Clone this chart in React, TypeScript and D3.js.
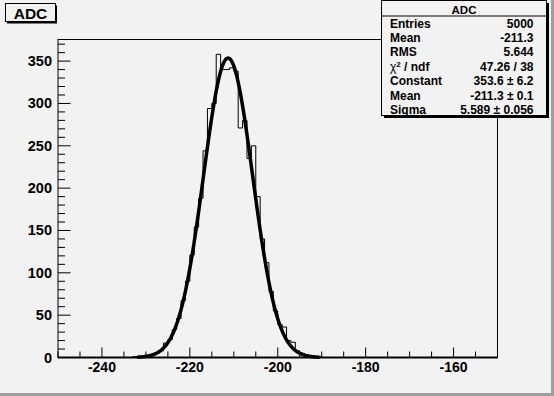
import React from "react";
import * as d3 from "d3";

// histogram: 1-unit bins, first bin starts at -233
const firstBin = -233;
const counts = [
  1, 0, 1, 2, 3, 5, 8, 17, 21, 33, 46, 67, 90, 121, 154, 188, 244, 294, 300,
  358, 340, 340, 342, 338, 271, 280, 235, 250, 190, 140, 112, 78, 55, 39, 36,
  20, 18, 8, 5, 3, 1, 1, 1,
];

// gaussian fit parameters (from the stats box)
const fitConstant = 353.6;
const fitMean = -211.3;
const fitSigma = 5.589;
const fitRange = [-232, -190.5];

const xTicks = [-240, -220, -200, -180, -160];
const yTicks = [0, 50, 100, 150, 200, 250, 300, 350];

const statLabels = ["Entries", "Mean", "RMS", "chi", "Constant", "Mean", "Sigma"];
const statValues = ["5000", "-211.3", "5.644", "47.26 / 38", "353.6 \u00b1 6.2", "-211.3 \u00b1 0.1", "5.589 \u00b1 0.056"];

const W = 554;
const H = 396;
const font = "'Liberation Sans', Arial, Helvetica, sans-serif";

export default function App() {
  const fx0 = 58;
  const fx1 = 497.5;
  const fy0 = 39.5;
  const fy1 = 357.5;

  const x = d3.scaleLinear().domain([-250, -150]).range([fx0, fx1]);
  const y = d3.scaleLinear().domain([0, 375.5]).range([fy1, fy0]);

  // step outline across the whole axis range
  const pts: [number, number][] = [[-250, 0], [firstBin, 0]];
  counts.forEach((c, i) => {
    pts.push([firstBin + i, c]);
    pts.push([firstBin + i + 1, c]);
  });
  pts.push([firstBin + counts.length, 0]);
  pts.push([-150, 0]);
  const histPath = d3
    .line<[number, number]>()
    .x((d) => x(d[0]))
    .y((d) => y(d[1]))(pts);

  const gauss = (v: number) =>
    fitConstant * Math.exp(-0.5 * ((v - fitMean) / fitSigma) ** 2);
  const fitPts = d3.range(fitRange[0], fitRange[1] + 0.01, 0.1);
  const fitPath = d3
    .line<number>()
    .x((v) => x(v))
    .y((v) => y(gauss(v)))
    .curve(d3.curveMonotoneX)(fitPts);

  const xMinor = d3.range(-250, -150, 5);
  const yMinor = d3.range(0, 375, 10);

  return (
    <svg
      width={W}
      height={H}
      style={{ position: "absolute", left: 0, top: 0 }}
      fontFamily={font}
      fontWeight="bold"
    >
      {/* canvas with bevel */}
      <rect x={0} y={0} width={W} height={H} fill="#f2f2f2" />
      <rect x={W - 3} y={0} width={3} height={H} fill="#9e9e9e" />
      <rect x={0} y={H - 3} width={W} height={3} fill="#9e9e9e" />

      {/* frame */}
      <rect
        x={fx0}
        y={fy0}
        width={fx1 - fx0}
        height={fy1 - fy0}
        fill="#f2f2f2"
        stroke="#000"
        strokeWidth={1}
      />

      {/* x ticks */}
      {xMinor.map((v) => {
        const major = xTicks.includes(v);
        return (
          <line
            key={"xt" + v}
            x1={x(v)}
            x2={x(v)}
            y1={fy1}
            y2={fy1 - (major ? 10 : 6)}
            stroke="#000"
          />
        );
      })}
      {xTicks.map((v) => (
        <text key={"xl" + v} x={x(v)} y={372} textAnchor="middle" fontSize={14}>
          {v}
        </text>
      ))}

      {/* y ticks */}
      {yMinor.map((v) => {
        const major = v % 50 === 0;
        return (
          <line
            key={"yt" + v}
            x1={fx0}
            x2={fx0 + (major ? 12.5 : 7)}
            y1={y(v)}
            y2={y(v)}
            stroke="#000"
          />
        );
      })}
      {yTicks.map((v) => (
        <text key={"yl" + v} x={52} y={y(v) + 5} textAnchor="end" fontSize={14.5}>
          {v}
        </text>
      ))}

      {/* histogram */}
      <path d={histPath ?? ""} fill="none" stroke="#000" strokeWidth={1} />
      {/* fit */}
      <path d={fitPath ?? ""} fill="none" stroke="#000" strokeWidth={3.5} strokeLinejoin="round" />
      <line x1={fx0} x2={fx1} y1={fy1} y2={fy1} stroke="#000" strokeWidth={2} />

      {/* title box */}
      <rect x={7} y={5.5} width={50} height={18} fill="#000" />
      <rect x={5.5} y={3.5} width={50} height={18} fill="#f2f2f2" stroke="#000" />
      <text x={30.5} y={18.5} textAnchor="middle" fontSize={15.5}>
        ADC
      </text>

      {/* stats box */}
      <rect x={384} y={3} width={165} height={115} fill="#000" />
      <rect x={381.5} y={0.5} width={165} height={115} fill="#f2f2f2" stroke="#000" />
      <line x1={381.5} x2={546.5} y1={16} y2={16} stroke="#000" />
      <text x={464} y={13.5} textAnchor="middle" fontSize={11.5}>
        ADC
      </text>
      {statLabels.map((l, i) => (
        <text key={"sl" + i} x={390} y={27.5 + i * 14.45} fontSize={12}>
          {l === "chi" ? (
            <>
              <tspan fontWeight="normal">{"\u03c7"}</tspan>
              <tspan dy={-4} fontSize={8}>2</tspan>
              <tspan dy={4}>{" / ndf"}</tspan>
            </>
          ) : (
            l
          )}
        </text>
      ))}
      {statValues.map((v, i) => (
        <text key={"sv" + i} x={533.5} y={27.5 + i * 14.45} textAnchor="end" fontSize={12}>
          {v}
        </text>
      ))}
    </svg>
  );
}
